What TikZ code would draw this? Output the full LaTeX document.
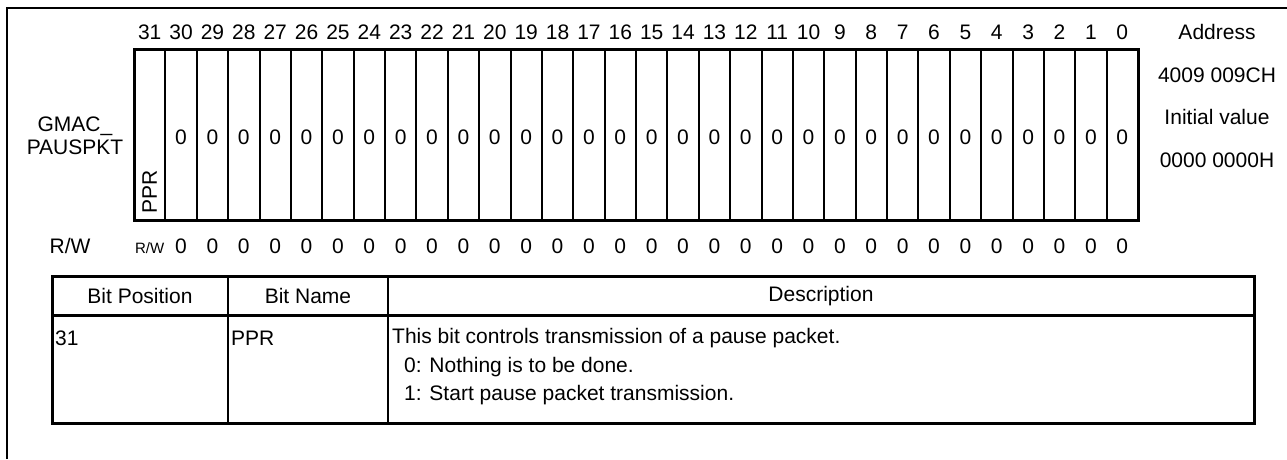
\documentclass[tikz,border=0pt]{standalone}
\usepackage{fontspec}
\setmainfont{Liberation Sans}
\begin{document}
\begin{tikzpicture}[x=1pt,y=-1pt,
  txt/.style={inner sep=0pt, font=\fontsize{21}{23}\selectfont},
  smalltxt/.style={inner sep=0pt, font=\fontsize{15}{17}\selectfont},
  frameline/.style={line width=2pt},
  thickline/.style={line width=3pt},
  thinline/.style={line width=2pt}]
\useasboundingbox (0,0) rectangle (1287,459);
% outer frame
\draw[frameline] (7,459) -- (7,8) -- (1287,8);
% register cells
\foreach \i in {1,...,31} \draw[thinline] ({134+\i*31.375},49) -- ({134+\i*31.375},220);
\draw[thickline] (134,49) rectangle (1138,220);
% bit numbers
\foreach \b in {0,...,31} \node[txt] (n\b) at ({134+(31-\b+0.5)*31.375},32) {\b};
% cell values
\foreach \b in {0,...,30} \node[txt] (z\b) at ({134+(31-\b+0.5)*31.375},137) {0};
\node[txt, rotate=90, anchor=west] (ppr) at ({134+0.5*31.375},214) {PPR};
% R/W row
\node[smalltxt, anchor=base] (rw31) at ({134+0.5*31.375},253) {R/W};
\foreach \b in {0,...,30} \node[txt, anchor=base] (r\b) at ({134+(31-\b+0.5)*31.375},253) {0};
% left labels
\node[txt, align=center] (regname) at (75,136) {GMAC\_\\PAUSPKT};
\node[txt, anchor=base] (rwlabel) at (70,253) {R/W};
% right labels
\node[txt] (addr) at (1217,32) {Address};
\node[txt] (addrval) at (1217,75) {4009 009CH};
\node[txt] (init) at (1217,117) {Initial value};
\node[txt] (initval) at (1217,160) {0000 0000H};
% table
\draw[thickline] (52,276) rectangle (1254,423);
\draw[thickline] (52,315) -- (1254,315);
\draw[thinline] (228,276) -- (228,423);
\draw[thinline] (388,276) -- (388,423);
\node[txt] (h1) at (140,296) {Bit Position};
\node[txt] (h2) at (308,296) {Bit Name};
\node[txt] (h3) at (821,296) {Description};
\node[txt, anchor=west] (c1) at (55,338) {31};
\node[txt, anchor=west] (c2) at (231,338) {PPR};
\node[txt, anchor=west] (c3) at (392,338) {This bit controls transmission of a pause packet.};
\node[txt, anchor=west] (c4) at (404,367) {0: Nothing is to be done.};
\node[txt, anchor=west] (c5) at (404,395) {1: Start pause packet transmission.};
\end{tikzpicture}
\end{document}
